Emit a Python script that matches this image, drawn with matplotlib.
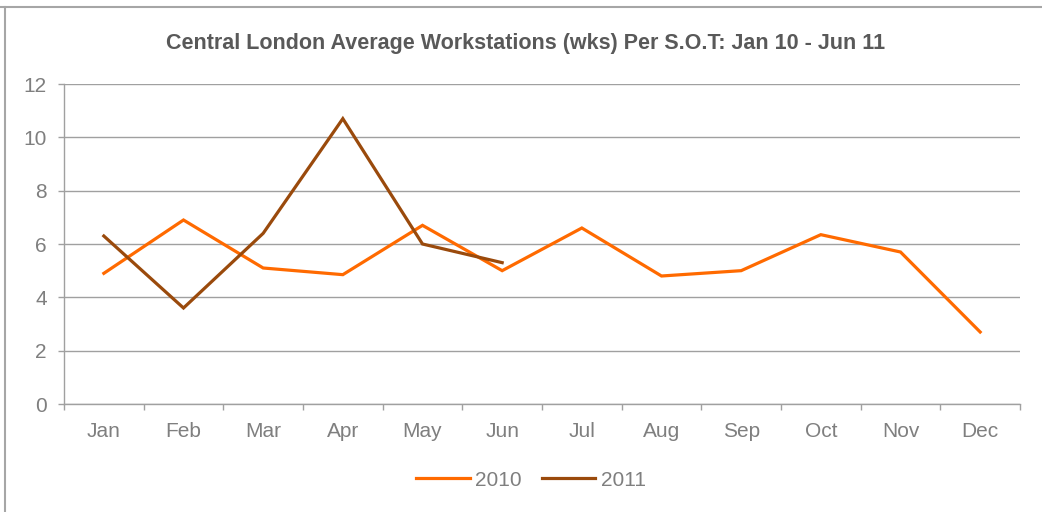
import matplotlib
matplotlib.use('Agg')
import matplotlib.pyplot as plt
import numpy as np

plt.rcParams['font.family'] = ['Liberation Sans', 'DejaVu Sans']

meses = ['Jan', 'Feb', 'Mar', 'Apr', 'May', 'Jun', 'Jul', 'Aug', 'Sep', 'Oct', 'Nov', 'Dec']
valores_2010 = [4.9, 6.9, 5.1, 4.85, 6.7, 5.0, 6.6, 4.8, 5.0, 6.35, 5.7, 2.7]
valores_2011 = [6.3, 3.6, 6.4, 10.7, 6.0, 5.3]
titulo = 'Central London Average Workstations (wks) Per S.O.T: Jan 10 - Jun 11'

cinza_texto = '#7f7f7f'
cinza_linha = '#a0a0a0'

fig = plt.figure(figsize=(10.42, 5.12), dpi=100)
ax = fig.add_axes([64/1042, 108/512, (1020-64)/1042, 320/512])

x = np.arange(len(meses))
ax.plot(x, valores_2010, color='#ff6a00', linewidth=2.3, label='2010', solid_joinstyle='miter', zorder=3)
ax.plot(x[:len(valores_2011)], valores_2011, color='#9a4a0c', linewidth=2.3, label='2011', solid_joinstyle='miter', zorder=3)

ax.set_xlim(-0.5, len(meses) - 0.5)
ax.set_ylim(0, 12)
ax.set_yticks(np.arange(0, 13, 2))
ax.grid(axis='y', color=cinza_linha, linewidth=1)
ax.set_axisbelow(True)

ax.set_xticks(x)
ax.set_xticklabels(meses)
ax.set_xticks(np.arange(-0.5, len(meses), 1), minor=True)
ax.tick_params(axis='x', which='major', length=0, pad=13, labelsize=15, colors=cinza_texto)
ax.tick_params(axis='x', which='minor', length=4.5, width=1, color=cinza_linha, direction='out')
ax.tick_params(axis='y', length=4.5, width=1, color=cinza_linha, pad=8, labelsize=15, labelcolor=cinza_texto)

for lado in ['top', 'right']:
    ax.spines[lado].set_visible(False)
for lado in ['left', 'bottom']:
    ax.spines[lado].set_color(cinza_linha)
    ax.spines[lado].set_linewidth(1)

fig.text(526/1042, 1 - 43/512, titulo, ha='center', va='center', fontsize=15.5,
         fontweight='bold', color='#595959')

ax.legend(loc='center', bbox_to_anchor=(531/1042, 1 - 480/512), bbox_transform=fig.transFigure,
          ncol=2, frameon=False, fontsize=15, labelcolor=cinza_texto, handlelength=2.55,
          handletextpad=0.25, columnspacing=1.0)

# moldura do gráfico
fig.add_artist(plt.Line2D([0, 1], [1 - 7/512, 1 - 7/512], transform=fig.transFigure,
                          color='#a6a6a6', linewidth=1.5))
fig.add_artist(plt.Line2D([5/1042, 5/1042], [0, 1 - 7/512], transform=fig.transFigure,
                          color='#a6a6a6', linewidth=1.5))

fig.savefig('out.png', dpi=100)
